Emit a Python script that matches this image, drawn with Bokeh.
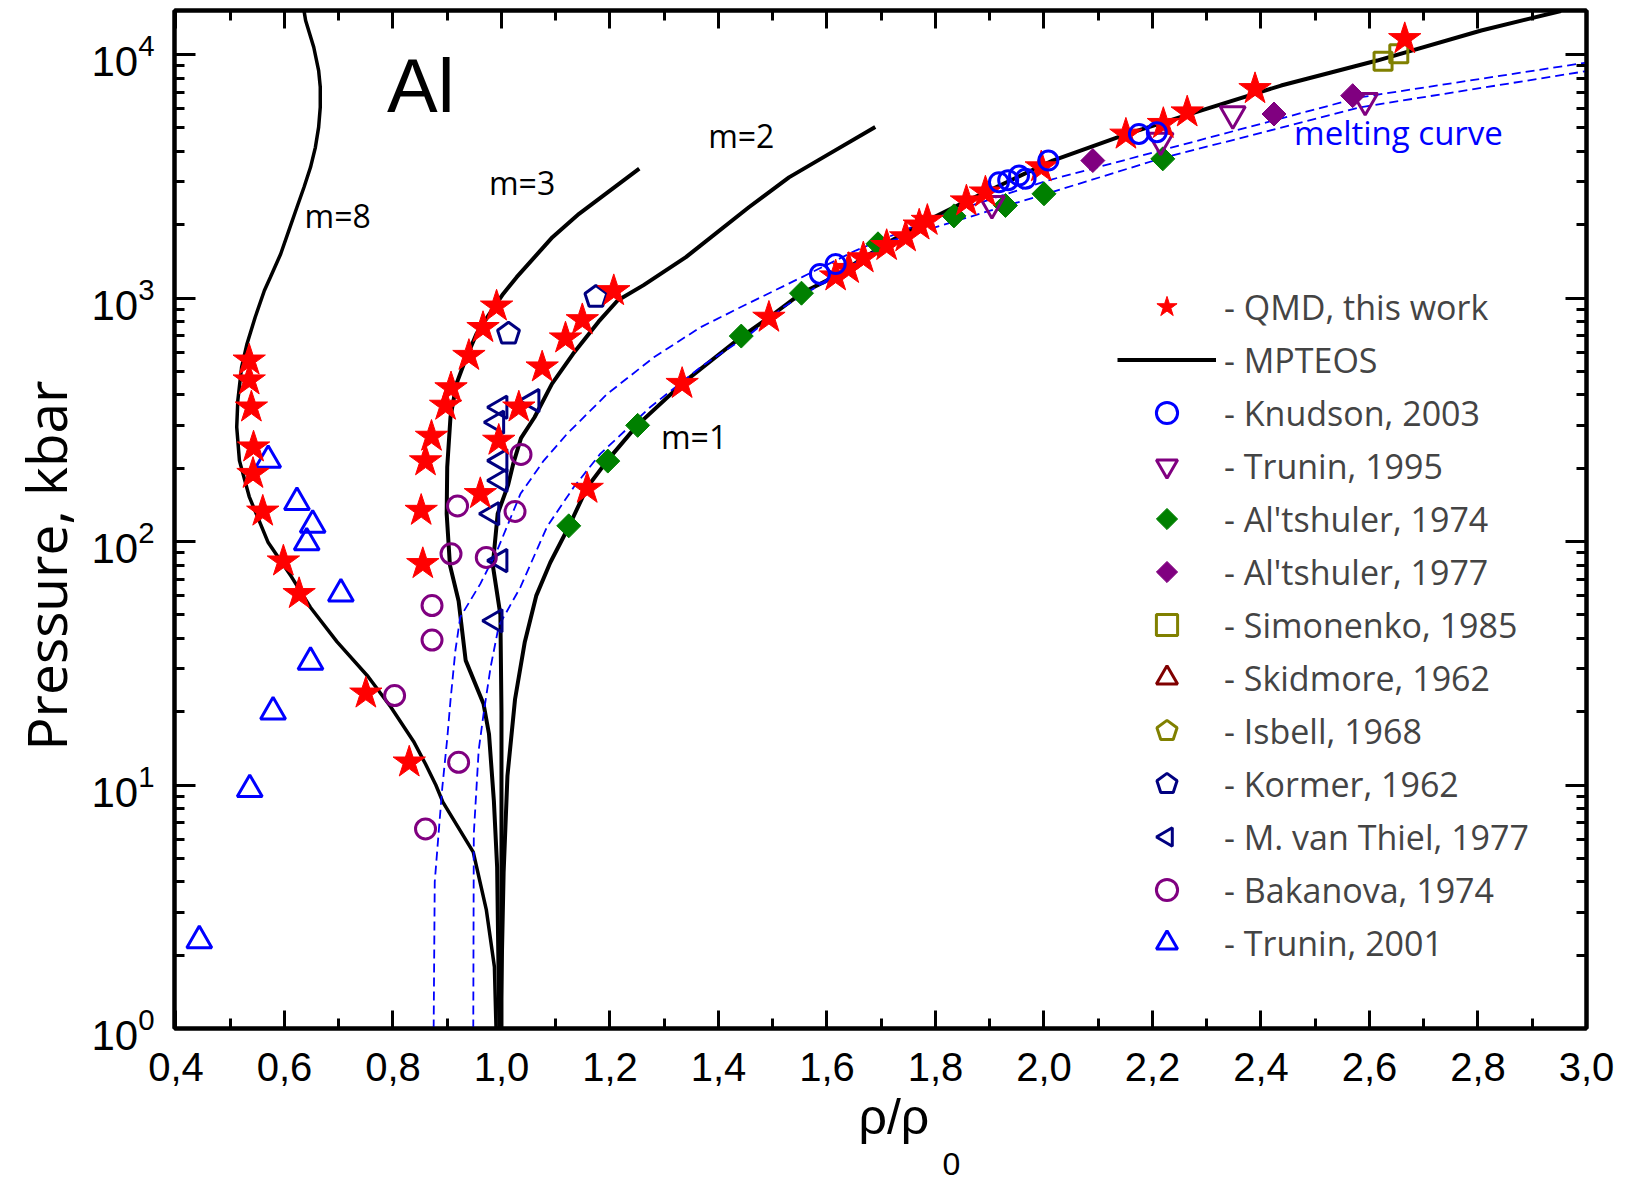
import math
from bokeh.plotting import figure
from bokeh.models import (FixedTicker, SingleIntervalTicker, LinearAxis, LogAxis, Title,
                          CustomJSTickFormatter, Legend, LegendItem, Label, ColumnDataSource)
from bokeh.embed import file_html
from bokeh.resources import INLINE

NAN = float("nan")

# ---------------- data: compression rho/rho0 vs pressure (kbar) ----------------
# MPTEOS Hugoniots for porosity m = 1, 2, 3, 8
m1_rho = [0.998, 1.004, 1.011, 1.025, 1.043, 1.064, 1.09, 1.124, 1.158, 1.195, 1.25, 1.333, 1.441,
          1.493, 1.553, 1.616, 1.667, 1.719, 1.785, 1.857, 1.892, 2.016, 2.151, 2.289, 2.437, 2.614,
          2.806, 2.953]
m1_p = [1.0, 4.4, 10.9, 22.5, 38.7, 59.8, 82, 115, 167, 215, 300, 445, 690,
        832, 1047, 1230, 1460, 1722, 2080, 2500, 2720, 3670, 4700, 5890, 7460, 9450,
        12560, 15100]

m2_rho = [1.0, 1.0, 0.998, 0.984, 0.993, 1.012, 1.022, 1.036, 1.061, 1.093, 1.132, 1.179, 1.214,
          1.262, 1.34, 1.456, 1.53, 1.604, 1.689]
m2_p = [1.0, 20, 50, 80, 130, 170, 210, 266, 324, 444, 590, 800, 977,
        1130, 1472, 2360, 3130, 3910, 5040]

m3_rho = [0.996, 0.992, 0.986, 0.977, 0.967, 0.934, 0.921, 0.905, 0.899, 0.9, 0.906, 0.917, 0.933,
          0.954, 0.978, 1.003, 1.028, 1.061, 1.094, 1.143, 1.2, 1.254]
m3_p = [1.0, 4.6, 8.6, 16.2, 21.5, 32.5, 57, 80, 130, 202, 324, 444, 554,
        713, 861, 1040, 1218, 1472, 1778, 2218, 2763, 3400]

m8_rho = [0.99, 0.987, 0.972, 0.948, 0.892, 0.879, 0.86, 0.838, 0.796, 0.754, 0.697, 0.648, 0.613,
          0.57, 0.535, 0.517, 0.512, 0.514, 0.521, 0.531, 0.546, 0.563, 0.574, 0.593, 0.608, 0.623,
          0.636, 0.648, 0.657, 0.663, 0.666, 0.666, 0.663, 0.654, 0.639, 0.636]
m8_p = [1.0, 1.79, 3.08, 5.3, 8.5, 10.0, 12.2, 15.1, 20.9, 27.9, 38.7, 53.6, 71.6,
        99, 153, 215, 295, 379, 520, 649, 834, 1074, 1217, 1517, 1892, 2360,
        2851, 3443, 4159, 5035, 6081, 7345, 8590, 10715, 13800, 15150]

# melting curve boundaries
melt_a_rho = [0.875, 0.877, 0.884, 0.891, 0.9, 0.906, 0.915, 0.924, 0.961, 0.992, 1.035, 1.078, 1.121,
              1.195, 1.281, 1.367, 1.453, 1.554, 1.653, 1.801, 2.007, 2.215, 2.584, 3.0]
melt_a_p = [1.0, 4.0, 6.3, 9.8, 15.5, 22.2, 35.6, 48.9, 67, 91.8, 157, 215, 277,
            404, 571, 759, 946, 1219, 1567, 2148, 3040, 4036, 6680, 9270]
melt_b_rho = [0.948, 0.949, 0.958, 0.967, 0.98, 0.995, 1.035, 1.084, 1.133, 1.182, 1.274, 1.367,
              1.459, 1.52, 1.719, 1.883, 2.007, 2.215, 2.584, 3.0]
melt_b_p = [1.0, 6.3, 13.9, 19.6, 30.5, 45, 65, 115, 167, 229, 356, 520,
            713, 918, 1722, 2223, 2692, 3741, 6080, 8550]

# QMD points
qmd_rho = [0.535, 0.535, 0.539, 0.543, 0.542, 0.56, 0.598, 0.627, 0.75, 0.83,
           0.991, 0.966, 0.94, 0.907, 0.897, 0.871, 0.86, 0.852, 0.855,
           1.207, 1.149, 1.118, 1.075, 1.032, 0.995, 0.961,
           1.158, 1.333, 1.493, 1.616, 1.64, 1.667, 1.71, 1.745, 1.77, 1.785, 1.857, 1.892,
           1.995, 2.151, 2.22, 2.264, 2.389, 2.665]
qmd_p = [555, 460, 356, 244, 190, 133, 83, 61, 23.8, 12.4,
         925, 755, 580, 427, 362, 270, 214, 134, 81,
         1070, 813, 684, 520, 356, 260, 157,
         165, 445, 832, 1230, 1320, 1460, 1640, 1780, 1990, 2080, 2500, 2720,
         3450, 4700, 5200, 5800, 7230, 11600]

# experiments (Skidmore and Isbell have no points in this window)
knudson_rho = [1.587, 1.616, 1.917, 1.934, 1.954, 1.966, 2.008, 2.175, 2.208]
knudson_p = [1256, 1380, 2990, 3050, 3185, 3090, 3670, 4720, 4800]
trunin95_rho = [1.904, 2.215, 2.348, 2.592]
trunin95_p = [2440, 4440, 5700, 6470]
alt74_rho = [1.124, 1.196, 1.251, 1.442, 1.553, 1.694, 1.834, 1.929, 2.0, 2.219]
alt74_p = [116, 214, 300, 698, 1047, 1670, 2175, 2400, 2680, 3730]
alt77_rho = [2.09, 2.424, 2.569]
alt77_p = [3670, 5700, 6780]
simonenko_rho = [2.625, 2.654]
simonenko_p = [9390, 10070]
skidmore_rho = [NAN]
skidmore_p = [NAN]
isbell_rho = [NAN]
isbell_p = [NAN]
kormer_rho = [1.013, 1.174]
kormer_p = [713, 1010]
thiel_rho = [0.998, 0.992, 1.057, 0.998, 0.998, 0.983, 0.998, 0.989]
thiel_p = [356, 309, 379, 215, 178, 130, 83.5, 47.3]
bakanova_rho = [0.919, 1.025, 0.907, 0.972, 0.872, 0.872, 0.803, 0.921, 0.86, 1.036]
bakanova_p = [140, 133, 89, 86, 54.6, 39.4, 23.3, 12.4, 6.6, 228]
trunin01_rho = [0.57, 0.623, 0.652, 0.641, 0.704, 0.648, 0.579, 0.536, 0.443]
trunin01_p = [216, 145, 117, 99, 61, 32, 20, 9.6, 2.3]

legend_labels = ["- QMD, this work", "- MPTEOS", "- Knudson, 2003", "- Trunin, 1995",
                 "- Al'tshuler, 1974", "- Al'tshuler, 1977", "- Simonenko, 1985",
                 "- Skidmore, 1962", "- Isbell, 1968", "- Kormer, 1962",
                 "- M. van Thiel, 1977", "- Bakanova, 1974", "- Trunin, 2001"]

# ---------------- figure ----------------
p = figure(width=1629, height=1182, x_range=(0.3973, 3.0), y_range=(1.0, 15170),
           y_axis_type="log", output_backend="svg", toolbar_location=None,
           min_border_left=174, min_border_right=43, min_border_top=10, min_border_bottom=154)
p.background_fill_color = "white"
p.border_fill_color = "white"
p.outline_line_color = "black"
p.outline_line_width = 4
p.xgrid.visible = False
p.ygrid.visible = False

bottom_axis = p.below[0]
left_axis = p.left[0]
top_axis = LinearAxis()
right_axis = LogAxis()
p.add_layout(top_axis, "above")
p.add_layout(right_axis, "right")

x_ticker = SingleIntervalTicker(interval=0.2, num_minor_ticks=2)
y_major = [1, 10, 100, 1000, 10000]
y_minor = [m * 10 ** k for k in range(5) for m in range(2, 10) if m * 10 ** k < 15170]
y_ticker = FixedTicker(ticks=y_major, minor_ticks=y_minor)

for ax in [bottom_axis, top_axis]:
    ax.ticker = x_ticker
    ax.major_tick_in = 18
for ax in [left_axis, right_axis]:
    ax.ticker = y_ticker
    ax.major_tick_in = 21

for ax in [bottom_axis, left_axis, top_axis, right_axis]:
    ax.axis_line_width = 4
    ax.axis_line_color = "black"
    ax.major_tick_line_width = 3
    ax.minor_tick_line_width = 3
    ax.major_tick_out = 0
    ax.minor_tick_out = 0
    ax.minor_tick_in = 10

for ax in [top_axis, right_axis]:
    ax.major_label_text_font_size = "1px"
    ax.major_label_text_alpha = 0
    ax.major_label_standoff = 0

bottom_axis.formatter = CustomJSTickFormatter(code="return tick.toFixed(1).replace('.', ',');")
bottom_axis.major_label_text_font = "Liberation Sans"
bottom_axis.major_label_text_font_size = "40px"
bottom_axis.major_label_text_color = "black"
bottom_axis.major_label_standoff = 24
left_axis.major_label_text_font = "Liberation Sans"
left_axis.major_label_text_font_size = "42px"
left_axis.major_label_text_color = "black"
left_axis.major_label_standoff = 20

# axis titles as side panels
y_title = Title(text="Pressure, kbar", align="left", offset=278, standoff=11,
                text_font="Open Sans", text_font_size="55px", text_font_style="normal",
                text_color="black")
p.add_layout(y_title, "left")
x_title = Title(text="\u03c1/\u03c1", align="left", offset=684, standoff=7,
                text_font="Liberation Sans", text_font_size="50px", text_font_style="normal",
                text_color="black")
p.add_layout(x_title, "below")
x_sub = Title(text="0", align="left", offset=768, standoff=4,
              text_font="Liberation Sans", text_font_size="32px", text_font_style="normal",
              text_color="black")
p.add_layout(x_sub, "below")

# ---------------- curves ----------------
line_kw = dict(line_color="black", line_width=4)
r_m1 = p.line(m1_rho, m1_p, **line_kw)
p.line(m2_rho, m2_p, **line_kw)
p.line(m3_rho, m3_p, **line_kw)
p.line(m8_rho, m8_p, line_color="black", line_width=3.5)

dash_kw = dict(line_color="#0000FF", line_width=1.8, line_dash="9 5")
p.line(melt_a_rho, melt_a_p, **dash_kw)
p.line(melt_b_rho, melt_b_p, **dash_kw)

# ---------------- markers ----------------
def polygon_marker(rho, pres, n, radius, angle, line_color, fill_color=None, line_width=3):
    src = ColumnDataSource(data=dict(x=rho, y=pres))
    try:
        return p.ngon(x="x", y="y", radius=radius, radius_units="screen", n=n, angle=angle,
                      fill_color=fill_color, line_color=line_color, line_width=line_width,
                      source=src)
    except Exception:
        shape = {3: "triangle", 4: "diamond", 5: "hex"}[n]
        return p.scatter(x="x", y="y", marker=shape, size=2 * radius, angle=angle,
                         fill_color=fill_color, line_color=line_color, line_width=line_width,
                         source=src)


r_alt74 = polygon_marker(alt74_rho, alt74_p, 4, 12, 0.0, "#008000", "#008000", 1)
r_alt77 = polygon_marker(alt77_rho, alt77_p, 4, 12, 0.0, "#800080", "#800080", 1)
r_sim = p.scatter(simonenko_rho, simonenko_p, marker="square", size=18,
                  fill_color=None, line_color="#808000", line_width=3)
r_skid = p.scatter(skidmore_rho, skidmore_p, marker="triangle", size=25,
                   fill_color=None, line_color="#800000", line_width=3)
r_isb = polygon_marker(isbell_rho, isbell_p, 5, 11.5, 0.0, "#808000")
r_kor = polygon_marker(kormer_rho, kormer_p, 5, 11.5, 0.0, "#000080")
r_thiel = polygon_marker(thiel_rho, thiel_p, 3, 13, math.pi / 2, "#000080")
r_bak = p.scatter(bakanova_rho, bakanova_p, marker="circle", size=20,
                  fill_color=None, line_color="#800080", line_width=3)
r_tr01 = p.scatter(trunin01_rho, trunin01_p, marker="triangle", size=25,
                   fill_color=None, line_color="#0000FF", line_width=3)
r_tr95 = p.scatter(trunin95_rho, trunin95_p, marker="inverted_triangle", size=25,
                   fill_color=None, line_color="#800080", line_width=3)
r_qmd = p.scatter(qmd_rho, qmd_p, marker="star", size=34,
                  fill_color="#FF0000", line_color="#FF0000", line_width=1)
r_knud = p.scatter(knudson_rho, knudson_p, marker="circle", size=19,
                   fill_color=None, line_color="#0000FF", line_width=3)

# ---------------- legend ----------------
legend_renderers = [r_qmd, r_m1, r_knud, r_tr95, r_alt74, r_alt77, r_sim, r_skid, r_isb,
                    r_kor, r_thiel, r_bak, r_tr01]
legend = Legend(items=[LegendItem(label=lab, renderers=[r])
                       for lab, r in zip(legend_labels, legend_renderers)],
                location=(943, 59), orientation="vertical",
                glyph_width=99, glyph_height=53, label_height=53, spacing=0,
                padding=0, margin=0, label_standoff=8,
                border_line_color=None, background_fill_alpha=0,
                label_text_font="Open Sans", label_text_font_size="34px")
p.add_layout(legend)

# ---------------- text inside the frame ----------------
p.add_layout(Label(x=0.789, y=7435, text="Al", text_font="Liberation Sans",
                   text_font_size="76px", text_align="left", text_baseline="alphabetic",
                   text_color="black"))
curve_font = dict(text_font="Open Sans", text_font_size="32px", text_align="left",
                  text_baseline="alphabetic", text_color="black")
p.add_layout(Label(x=0.637, y=2177, text="m=8", **curve_font))
p.add_layout(Label(x=0.977, y=2984, text="m=3", **curve_font))
p.add_layout(Label(x=1.381, y=4644, text="m=2", **curve_font))
p.add_layout(Label(x=1.294, y=269, text="m=1", **curve_font))
p.add_layout(Label(x=2.461, y=4783, text="melting curve", text_font="Open Sans",
                   text_font_size="33px", text_align="left", text_baseline="alphabetic",
                   text_color="#0000FF"))

open("out.html", "w").write(file_html(p, INLINE))
